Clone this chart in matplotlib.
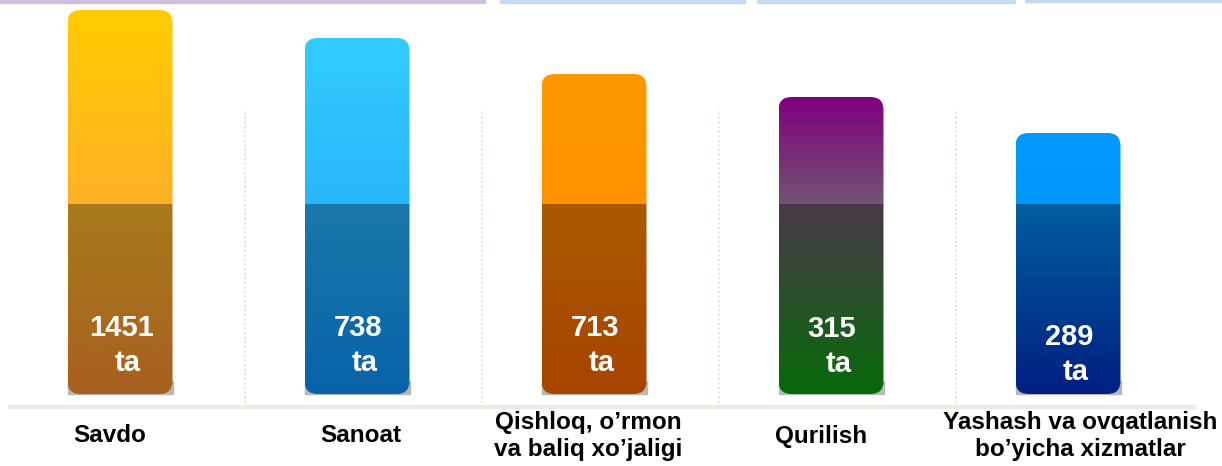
import numpy as np
import matplotlib
matplotlib.use("Agg")
import matplotlib.pyplot as plt
from matplotlib.patches import FancyBboxPatch, Rectangle
from matplotlib.colors import to_rgb

# data
categories = ["Savdo", "Sanoat", "Qishloq, o\u2019rmon\nva baliq xo\u2019jaligi",
              "Qurilish", "Yashash va ovqatlanish\nbo\u2019yicha xizmatlar"]
values = [1451, 738, 713, 315, 289]
# drawn heights of the bars (the infographic is not to scale), in pixels
bar_heights = [384, 356, 320, 297, 261]
split_height = 190  # where the darker lower band starts

# (upper top, upper bottom, lower top, lower bottom)
bar_colors = [
    ("#ffcc00", "#ffb126", "#a87a1c", "#a8601f"),
    ("#33ccff", "#29b6fb", "#1a78a8", "#0962aa"),
    ("#ff9900", "#ff9200", "#a85a00", "#a84400"),
    ("#800080", "#725272", "#483848", "#086a0a"),
    ("#0099ff", "#0097fb", "#005e9e", "#001f82"),
]

W, H = 1222, 466
spacing = 237.0      # px between bar centres
x0_px = 120.0        # px of first bar centre
base_px = 394        # px (from top) of bar bottoms
bar_w = 105 / spacing
radius = 13.0        # px

fig = plt.figure(figsize=(W / 100, H / 100), dpi=100)
ax = fig.add_axes([0, 0, 1, 1])
ax.set_xlim(-x0_px / spacing, (W - x0_px) / spacing)
ax.set_ylim(base_px - H, base_px)
ax.axis("off")

font = "Liberation Sans"


def grad(c1, c2, n=64):
    a, b = np.array(to_rgb(c1)), np.array(to_rgb(c2))
    t = np.linspace(0, 1, n)[:, None]
    return (a * (1 - t) + b * t)[:, None, :]


x = np.arange(len(values))
bars = ax.bar(x, bar_heights, width=bar_w, color="none", edgecolor="none")

for i, rect in enumerate(bars):
    bx, bw, bh = rect.get_x(), rect.get_width(), rect.get_height()
    # grey square corners peeking out under the rounded bottom
    ax.add_patch(Rectangle((bx, 0), bw, radius, color="#b8b8b8", zorder=1))
    patch = FancyBboxPatch((bx, 0), bw, bh,
                           boxstyle="round,pad=0,rounding_size=%f" % (radius / spacing),
                           mutation_aspect=spacing, facecolor="none",
                           edgecolor="none", zorder=2)
    ax.add_patch(patch)
    c = bar_colors[i]
    im1 = ax.imshow(grad(c[0], c[1]), extent=[bx, bx + bw, split_height, bh],
                    aspect="auto", origin="upper", zorder=2, interpolation="bilinear")
    im2 = ax.imshow(grad(c[2], c[3]), extent=[bx, bx + bw, 0, split_height],
                    aspect="auto", origin="upper", zorder=2, interpolation="bilinear")
    im1.set_clip_path(patch)
    im2.set_clip_path(patch)

# value labels inside bars
num_y = [66, 66, 66, 65, 57]
for i, v in enumerate(values):
    ax.text(x[i] + 1 / spacing, num_y[i], str(v), color="white", fontsize=21,
            fontweight="bold", family=font, ha="center", va="center", zorder=3)
    ax.text(x[i] + 8 / spacing, num_y[i] - 35, "ta", color="white", fontsize=21,
            fontweight="bold", family=font, ha="center", va="center", zorder=3)

# category labels
label_dx = [-10, 4, -6, -10, 12]
for i, lab in enumerate(categories):
    ax.text(x[i] + label_dx[i] / spacing, base_px - 436, lab, fontsize=17.5,
            fontweight="bold", family=font, ha="center", va="center",
            linespacing=1.25, color="black")

# dotted separators and the floor line
for i in range(len(values) - 1):
    ax.plot([x[i] + 0.5 + 6 / spacing] * 2, [base_px - 403, base_px - 109],
            color="#e6e6d8", lw=1.5, ls=(0, (1, 1.2)), zorder=0)
ax.plot([(8 - x0_px) / spacing, (1196 - x0_px) / spacing], [base_px - 407] * 2,
        color="#eeebe2", lw=3.2, solid_capstyle="butt", zorder=0)

# cut-off strips along the top edge
for (l, r, hh, col) in [(0, 485, 3, "#cdc1dc"), (500, 745, 3, "#c6d9f1"),
                        (757, 1015, 3, "#c6d9f1"), (1025, 1222, 2, "#c6d9f1")]:
    fig.patches.append(Rectangle((l / W, 1 - hh / H), (r - l) / W, hh / H,
                                 transform=fig.transFigure, color=col))

fig.savefig("out.png", dpi=100)
